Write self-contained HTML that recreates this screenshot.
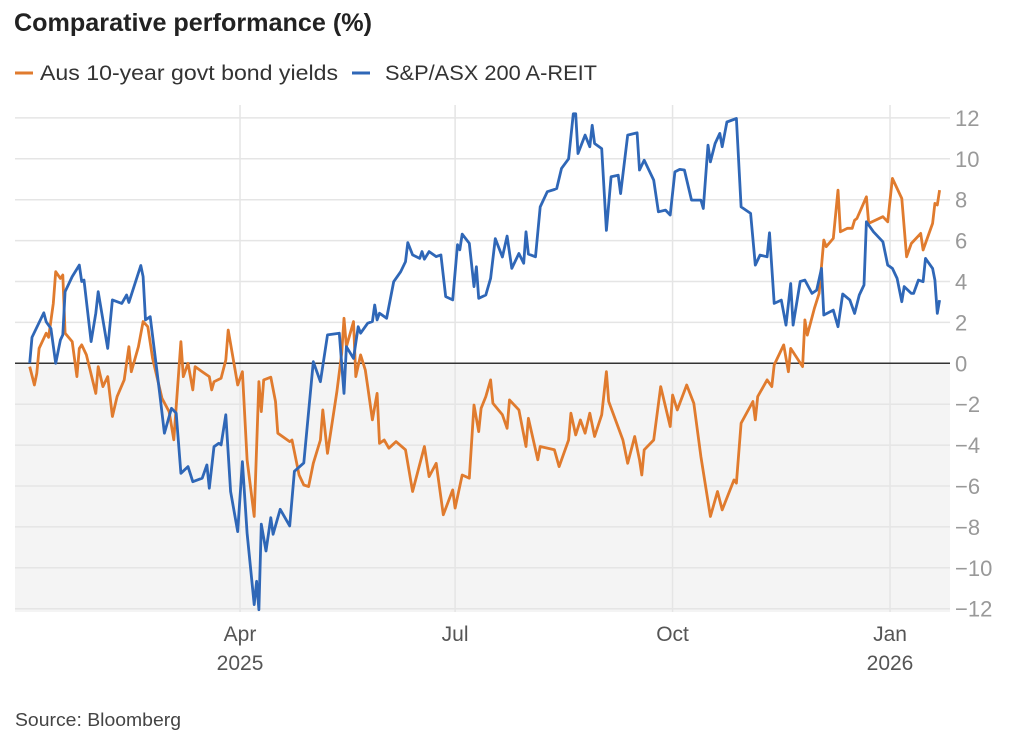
<!DOCTYPE html>
<html><head><meta charset="utf-8"><style>
body{margin:0;background:#fff;font-family:"Liberation Sans",sans-serif}
#wrap{position:relative;width:1024px;height:745px;overflow:hidden}
</style></head><body>
<div id="wrap">
<svg id="chart" width="1024" height="745"></svg>
</div>
<script>
const yTicks=[12,10,8,6,4,2,0,-2,-4,-6,-8,-10,-12];
const xTickDays=[90,181,273,365];
const xTickLabels=["Apr","Jul","Oct","Jan"];
const xYearLabels=["2025","","","2026"];
const blueDays=[1,2,7,8,10,12,14,15,16,19,22,23,24,27,29,30,34,36,40,42,43,48,49,50,52,56,58,61,63,65,68,70,74,76,77,79,81,82,84,86,89,91,93,96,97,98,99,101,103,104,107,111,113,117,121,124,127,132,134,135,138,140,141,144,146,147,148,149,152,155,158,160,161,163,166,167,168,170,173,175,177,180,182,183,184,187,189,190,191,194,196,198,201,203,205,208,210,211,212,215,217,220,223,224,226,229,231,232,233,236,238,239,240,243,245,247,250,251,254,258,259,261,265,267,270,272,274,276,278,281,285,286,288,289,291,293,294,296,300,302,306,308,310,313,314,316,319,321,323,324,327,329,332,334,336,337,341,343,345,348,350,352,354,355,358,362,364,366,368,370,371,374,375,377,379,380,383,384,385,386];
const blueVals=[0,1.27,2.47,2.03,1.7,0,1.14,1.39,3.5,4.24,4.8,4.0,4.07,1.06,2.45,3.5,0.73,3.1,2.93,3.34,2.98,4.78,4.24,2.12,2.28,-1.47,-3.42,-2.2,-2.44,-5.38,-5.05,-5.79,-5.62,-4.97,-6.11,-4.08,-3.91,-3.99,-2.52,-6.27,-8.23,-4.81,-8.31,-11.8,-10.66,-12.05,-7.87,-9.18,-7.55,-8.36,-7.14,-7.95,-5.28,-4.87,0.08,-0.9,1.39,1.47,-1.47,0.81,0.24,1.79,1.47,1.96,2.04,2.85,2.12,2.45,2.2,3.99,4.48,4.97,5.9,5.3,5.13,5.46,5.09,5.46,5.22,5.3,3.26,3.1,5.8,5.55,6.32,5.87,3.75,4.72,3.18,3.34,4.15,6.1,5.2,6.22,4.64,5.37,4.89,6.43,5.34,5.21,7.65,8.39,8.5,8.55,9.53,10.0,12.2,12.2,10.26,11.16,10.59,11.64,10.75,10.5,6.5,9.12,9.2,8.3,11.16,11.27,9.45,9.93,8.96,7.41,7.49,7.25,9.36,9.48,9.45,7.98,7.98,7.57,10.67,9.85,10.75,11.24,10.59,11.8,11.97,7.65,7.33,4.8,5.29,5.21,6.38,2.93,3.09,1.87,3.9,1.87,4.0,4.07,3.42,3.58,4.64,2.36,2.6,1.79,3.39,3.1,2.44,3.34,3.83,6.92,6.43,5.94,4.8,4.64,4.15,3.01,3.75,3.42,3.42,4.07,3.99,5.13,4.64,4.07,2.44,3.09];
const orangeDays=[1,3,4,5,8,9,11,12,14,15,16,19,21,22,23,25,29,30,32,34,36,38,41,43,44,47,49,51,53,57,60,62,65,66,68,70,71,74,77,78,79,82,84,85,89,91,93,96,98,99,100,103,105,106,111,112,115,117,119,121,124,125,127,131,133,134,135,138,139,141,143,144,146,148,149,151,153,156,160,163,168,170,173,176,180,181,184,187,189,191,192,194,196,197,201,203,204,208,211,212,216,217,223,225,229,230,232,234,236,238,240,243,245,246,252,254,257,259,260,261,265,268,272,273,275,279,282,285,289,292,294,299,300,302,307,308,309,313,315,316,320,322,323,328,329,330,333,335,337,338,341,343,344,347,349,350,351,355,356,362,364,366,370,372,374,378,379,383,384,385,386];
const orangeVals=[-0.16,-1.06,-0.49,0.73,1.47,1.27,2.93,4.48,4.15,4.32,1.47,1.06,-0.65,0.73,0.9,0.41,-1.47,-0.16,-1.14,-0.65,-2.6,-1.63,-0.81,0.81,-0.41,0.81,2.04,1.79,0.24,-1.71,-2.36,-3.74,1.06,-0.65,0,-1.3,-0.16,-0.41,-0.65,-1.3,-0.9,-0.73,0.16,1.63,-1.06,-0.41,-4.72,-7.49,-0.9,-2.36,-0.81,-0.68,-1.87,-3.42,-3.83,-3.75,-5.46,-5.95,-6.03,-4.89,-3.75,-2.28,-4.4,-1.38,0.49,2.2,0.81,2.04,-0.65,0.41,-0.33,-1.14,-2.77,-1.47,-3.91,-3.75,-4.15,-3.83,-4.23,-6.27,-4.07,-5.54,-4.89,-7.41,-6.19,-7.08,-5.46,-5.62,-2.04,-3.34,-2.2,-1.63,-0.81,-1.95,-2.52,-3.18,-1.79,-2.28,-4.07,-2.69,-4.72,-4.07,-4.23,-5.05,-3.75,-2.44,-3.5,-2.77,-3.42,-2.44,-3.58,-2.52,-0.41,-1.87,-3.75,-4.89,-3.58,-4.72,-5.46,-4.23,-3.75,-1.14,-3.09,-1.55,-2.28,-1.06,-1.95,-4.56,-7.49,-6.27,-7.17,-5.7,-5.86,-2.93,-1.87,-2.77,-1.63,-0.81,-1.14,-0.08,0.9,-0.41,0.73,-0.16,2.12,1.38,2.69,3.42,6.03,5.7,6.11,8.47,6.43,6.6,6.6,7.0,7.08,8.14,6.84,7.17,6.92,9.04,8.06,5.21,5.86,6.35,5.54,6.84,7.82,7.74,8.47];

const NS="http://www.w3.org/2000/svg";
const svg=document.getElementById('chart');
const L=15,R=950,T=105,B=612;
function xs(d){return 27.3+d*2.3636;}
function ys(v){return 363.3-v*20.45;}
function mk(tag,attrs,parent){const e=document.createElementNS(NS,tag);for(const k in attrs)e.setAttribute(k,attrs[k]);(parent||svg).appendChild(e);return e;}

let t=mk('text',{x:14,y:31,'font-size':25,'font-weight':'bold',fill:'#222',textLength:358,lengthAdjust:'spacingAndGlyphs'});


t.textContent='Comparative performance (%)';

let lg=mk('g',{});


let l1=mk('line',{x1:15,y1:73,x2:33,y2:73,stroke:'#e07b2e','stroke-width':3},lg);


let lt1=mk('text',{x:40,y:80,'font-size':21,fill:'#333',textLength:298,lengthAdjust:'spacingAndGlyphs'},lg);


lt1.textContent='Aus 10-year govt bond yields';
let l2=mk('line',{x1:352,y1:73,x2:370,y2:73,stroke:'#2f67b7','stroke-width':3},lg);


let lt2=mk('text',{x:385,y:80,'font-size':21,fill:'#333',textLength:212,lengthAdjust:'spacingAndGlyphs'},lg);


lt2.textContent='S&P/ASX 200 A-REIT';

let neg=mk('rect',{x:L,y:ys(0),width:R-L,height:B-ys(0),fill:'#f4f4f4'});



yTicks.forEach(v=>{
  if(v!==0){let g=mk('line',{x1:L,x2:R,y1:ys(v),y2:ys(v),stroke:'#e5e5e5','stroke-width':1.5});
  
  }
  let tx=mk('text',{x:955,y:ys(v)+8,'font-size':22,fill:'#999'});
  
  
  tx.textContent=(v<0?'\u2212'+(-v):String(v));
});
xTickDays.forEach((d,i)=>{
  let g=mk('line',{x1:xs(d),x2:xs(d),y1:T,y2:B,stroke:'#e5e5e5','stroke-width':1.5});
  
  
  let tx=mk('text',{x:xs(d),y:641,'font-size':21,fill:'#555','text-anchor':'middle'});
  
  
  tx.textContent=xTickLabels[i];
  if(xYearLabels[i]){let ty=mk('text',{x:xs(d),y:670,'font-size':21,fill:'#555','text-anchor':'middle'});
  
  
  ty.textContent=xYearLabels[i];}
});
let z=mk('line',{x1:L,x2:R,y1:ys(0),y2:ys(0),stroke:'#333','stroke-width':1.5});



function path(days,vals){return days.map((d,i)=>(i?'L':'M')+xs(d).toFixed(1)+','+ys(vals[i]).toFixed(1)).join('');}
let po=mk('path',{d:path(orangeDays,orangeVals),fill:'none',stroke:'#e07b2e','stroke-width':2.8,'stroke-linejoin':'round'});


let pb=mk('path',{d:path(blueDays,blueVals),fill:'none',stroke:'#2f67b7','stroke-width':2.8,'stroke-linejoin':'round'});



let src=mk('text',{x:15,y:726,'font-size':18,fill:'#444',textLength:166,lengthAdjust:'spacingAndGlyphs'});


src.textContent='Source: Bloomberg';
</script>
</body></html>
